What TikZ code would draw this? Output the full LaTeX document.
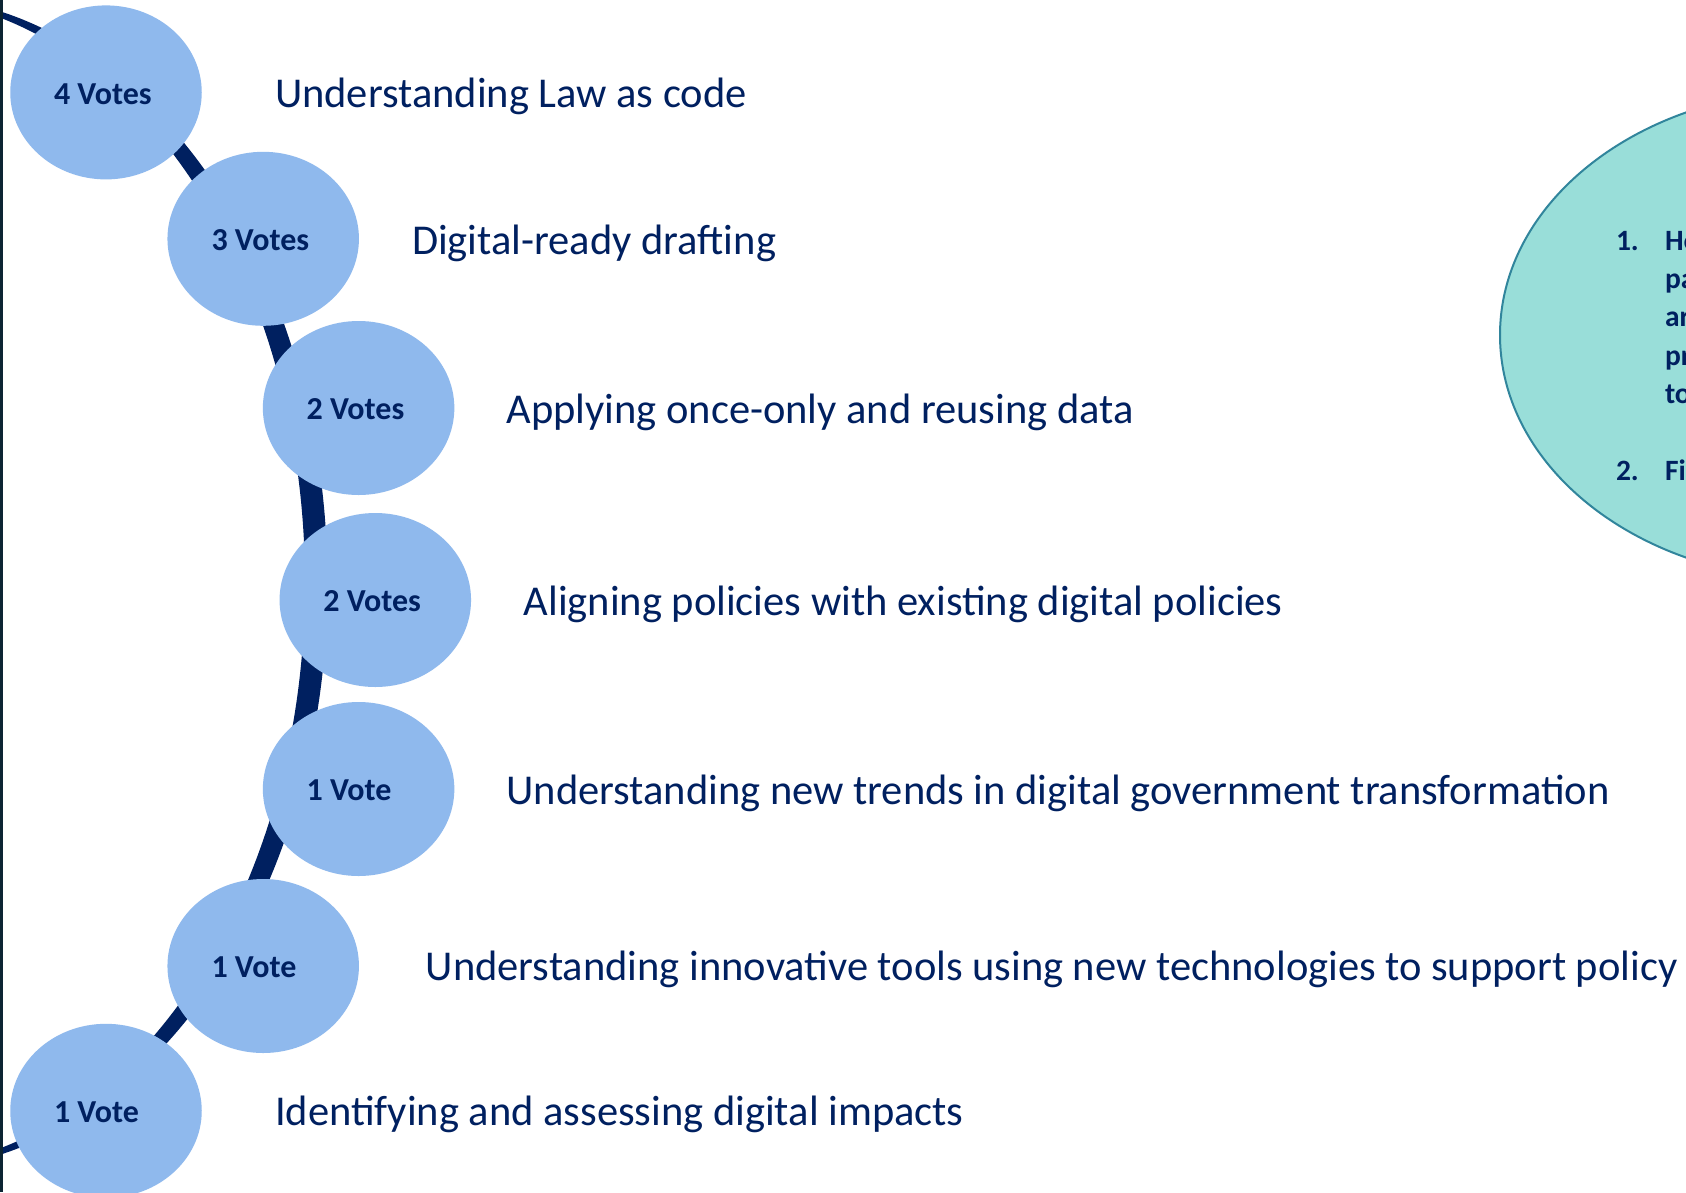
\documentclass[tikz,border=0pt]{standalone}
\usepackage{fontspec}
\setmainfont{Carlito}
\usetikzlibrary{shapes.geometric}
\definecolor{navy}{RGB}{0,32,96}
\definecolor{votefill}{RGB}{143,185,237}
\definecolor{tealfill}{RGB}{153,222,217}
\definecolor{tealline}{RGB}{49,133,156}
\definecolor{edgedark}{RGB}{12,36,51}
\begin{document}
\begin{tikzpicture}[x=1pt,y=-1pt,
  every node/.style={inner sep=0pt, outer sep=0pt},
  votecircle/.style={ellipse, fill=votefill, minimum width=191.5pt, minimum height=174pt},
  votelabel/.style={anchor=base west, font=\fontsize{32}{36}\selectfont\bfseries, text=navy},
  itemtext/.style={anchor=base west, font=\fontsize{42.5}{50}\selectfont, text=navy},
  ovaltext/.style={anchor=base west, font=\fontsize{29.5}{34}\selectfont\bfseries, text=navy},
  crescent/.style={fill=navy, even odd rule}
]
\useasboundingbox (0,0) rectangle (1686,1192);
\clip (0,0) rectangle (1686,1192);
\fill[white] (0,0) rectangle (1686,1192);

% right oval with numbered list
\node[ellipse, draw=tealline, line width=2pt, fill=tealfill, minimum width=640pt, minimum height=490pt] (oval) at (1820,335) {};
\node[ovaltext] (n1) at (1616,250) {1.};
\node[ovaltext] (o1) at (1665,250) {Ho};
\node[ovaltext] (o2) at (1665,288.3) {pa};
\node[ovaltext] (o3) at (1665,326.6) {ar};
\node[ovaltext] (o4) at (1665,365) {pr};
\node[ovaltext] (o5) at (1665,403.3) {to};
\node[ovaltext] (n2) at (1616,480) {2.};
\node[ovaltext] (o6) at (1665,480) {Fi};

% curved band
\fill[crescent] (-96.5,583) ellipse [x radius=424, y radius=587] (-108,583) ellipse [x radius=413, y radius=585.6];

% vote circles
\node[votecircle] (v1) at (106,92.4) {};
\node[votecircle] (v2) at (263.2,238.8) {};
\node[votecircle] (v3) at (358.6,408) {};
\node[votecircle] (v4) at (375.3,600) {};
\node[votecircle] (v5) at (358.6,789) {};
\node[votecircle] (v6) at (263.2,966) {};
\node[votecircle] (v7) at (106,1110.8) {};

\node[votelabel] (l1) at (54,104) {4 Votes};
\node[votelabel] (l2) at (211.5,250.3) {3 Votes};
\node[votelabel] (l3) at (306.6,419.5) {2 Votes};
\node[votelabel] (l4) at (323.3,611.5) {2 Votes};
\node[votelabel] (l5) at (306.6,800.5) {1 Vote};
\node[votelabel] (l6) at (211.5,977.5) {1 Vote};
\node[votelabel] (l7) at (54,1122.3) {1 Vote};

% item texts
\node[itemtext] (t1) at (275,107.3) {Understanding Law as code};
\node[itemtext] (t2) at (412,254) {Digital-ready drafting};
\node[itemtext] (t3) at (506.5,423) {Applying once-only and reusing data};
\node[itemtext] (t4) at (523.7,615) {Aligning policies with existing digital policies};
\node[itemtext] (t5) at (506.5,804) {Understanding new trends in digital government transformation};
\node[itemtext] (t6) at (425.8,980) {Understanding innovative tools using new technologies to support policy};
\node[itemtext] (t7) at (275,1125.5) {Identifying and assessing digital impacts};

% left edge strip
\fill[edgedark] (0,0) rectangle (3,1192);
\end{tikzpicture}
\end{document}
